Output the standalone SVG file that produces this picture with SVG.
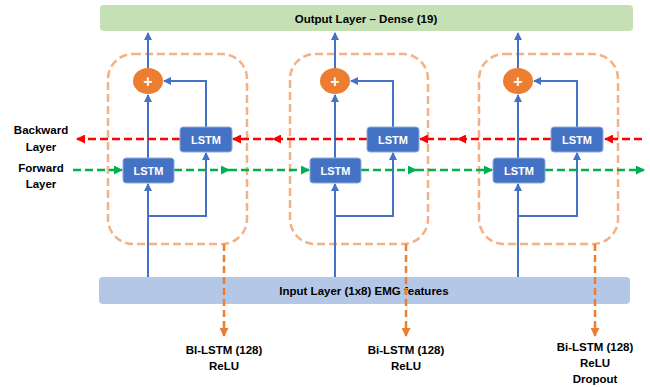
<svg xmlns="http://www.w3.org/2000/svg" width="650" height="387" viewBox="0 0 650 387">
<defs>
<style>
.t{font-family:"Liberation Sans",Arial,sans-serif;font-weight:bold;font-size:11.5px;fill:#000;text-anchor:middle}
.lt{font-family:"Liberation Sans",Arial,sans-serif;font-weight:bold;font-size:11px;fill:#fff;text-anchor:middle}
.plus{font-family:"Liberation Sans",Arial,sans-serif;font-weight:bold;font-size:16px;fill:#fff;text-anchor:middle}
.lstm{fill:#4472c4;stroke:#8faadc;stroke-width:1}
.cell{fill:none;stroke:#f4b183;stroke-width:2.5;stroke-dasharray:8 4}
.blue{fill:none;stroke:#4472c4;stroke-width:2}
.red{fill:none;stroke:#ff0000;stroke-width:2.5;stroke-dasharray:8 4}
.green{fill:none;stroke:#00b050;stroke-width:2.5;stroke-dasharray:8 4}
.or{fill:none;stroke:#ed7d31;stroke-width:2.5;stroke-dasharray:7 4}
</style>
<marker id="ab" markerWidth="8" markerHeight="8" refX="7" refY="4" orient="auto" markerUnits="userSpaceOnUse"><path d="M0,0 L8,4 L0,8 z" fill="#4472c4"/></marker>
<marker id="ar" markerWidth="9" markerHeight="9" refX="8" refY="4.5" orient="auto" markerUnits="userSpaceOnUse"><path d="M0,0 L9,4.5 L0,9 z" fill="#ff0000"/></marker>
<marker id="ag" markerWidth="9" markerHeight="9" refX="8" refY="4.5" orient="auto" markerUnits="userSpaceOnUse"><path d="M0,0 L9,4.5 L0,9 z" fill="#00b050"/></marker>
<marker id="ao" markerWidth="9" markerHeight="9" refX="8" refY="4.5" orient="auto" markerUnits="userSpaceOnUse"><path d="M0,0 L9,4.5 L0,9 z" fill="#ed7d31"/></marker>
</defs>
<rect width="650" height="387" fill="#fff"/>

<g id="output">
<rect x="100" y="5" width="533" height="26" rx="4" fill="#c5e0b4"/>
<text class="t" x="366" y="23">Output Layer – Dense (19)</text>
</g>
<g id="input">
<rect x="99" y="277" width="531" height="27" rx="4" fill="#b4c7e7"/>
<text class="t" x="364" y="295">Input Layer (1x8) EMG features</text>
</g>

<g id="cells">
<rect id="cell1" class="cell" x="108" y="54" width="139" height="190" rx="25"/>
<rect id="cell2" class="cell" x="290" y="54" width="138" height="190" rx="25"/>
<rect id="cell3" class="cell" x="479" y="54" width="139" height="190" rx="25"/>
</g>

<g id="connectors">
<path class="blue" d="M148,277 V216" stroke-width="3"/>
<path class="blue" d="M148,216 V184" marker-end="url(#ab)"/>
<path class="blue" d="M148,216 H206 V153" marker-end="url(#ab)"/>
<path class="blue" d="M148,158 V95" marker-end="url(#ab)"/>
<path class="blue" d="M206,127 V81 H164" marker-end="url(#ab)"/>
<path class="blue" d="M148,68 V33" marker-end="url(#ab)"/>
<path class="blue" d="M335,277 V216" stroke-width="3"/>
<path class="blue" d="M335,216 V184" marker-end="url(#ab)"/>
<path class="blue" d="M335,216 H393 V153" marker-end="url(#ab)"/>
<path class="blue" d="M335,158 V95" marker-end="url(#ab)"/>
<path class="blue" d="M393,127 V81 H351" marker-end="url(#ab)"/>
<path class="blue" d="M335,68 V33" marker-end="url(#ab)"/>
<path class="blue" d="M518,277 V216" stroke-width="3"/>
<path class="blue" d="M518,216 V184" marker-end="url(#ab)"/>
<path class="blue" d="M518,216 H577 V153" marker-end="url(#ab)"/>
<path class="blue" d="M518,158 V95" marker-end="url(#ab)"/>
<path class="blue" d="M577,127 V81 H534" marker-end="url(#ab)"/>
<path class="blue" d="M518,68 V33" marker-end="url(#ab)"/>
<path class="red" d="M642,139 H605" marker-end="url(#ar)"/>
<path class="red" d="M551,139 H458" marker-end="url(#ar)"/>
<path class="red" d="M458,139 H420" marker-end="url(#ar)"/>
<path class="red" d="M367,139 H273" marker-end="url(#ar)"/>
<path class="red" d="M273,139 H233" marker-end="url(#ar)"/>
<path class="red" d="M180,139 H77" marker-end="url(#ar)"/>
<path class="green" d="M73,170 H122" marker-end="url(#ag)"/>
<path class="green" d="M174,170 H229" marker-end="url(#ag)"/>
<path class="green" d="M229,170 H309" marker-end="url(#ag)"/>
<path class="green" d="M361,170 H416" marker-end="url(#ag)"/>
<path class="green" d="M416,170 H492" marker-end="url(#ag)"/>
<path class="green" d="M545,170 H644" marker-end="url(#ag)"/>
<path class="or" d="M224,244 V336" marker-end="url(#ao)"/>
<path class="or" d="M406,244 V336" marker-end="url(#ao)"/>
<path class="or" d="M595,244 V336" marker-end="url(#ao)"/>
</g>

<g id="sum1"><ellipse cx="148" cy="81" rx="15" ry="13" fill="#ed7d31"/><text class="plus" x="148" y="87">+</text></g>
<g id="sum2"><ellipse cx="335" cy="81" rx="15" ry="13" fill="#ed7d31"/><text class="plus" x="335" y="87">+</text></g>
<g id="sum3"><ellipse cx="518" cy="81" rx="15" ry="13" fill="#ed7d31"/><text class="plus" x="518" y="87">+</text></g>

<g id="fwd1"><rect class="lstm" x="123" y="158" width="51" height="25" rx="3"/><text class="lt" x="148.5" y="174.5">LSTM</text></g>
<g id="bwd1"><rect class="lstm" x="180" y="127" width="52" height="25" rx="3"/><text class="lt" x="206" y="143.5">LSTM</text></g>
<g id="fwd2"><rect class="lstm" x="310" y="158" width="51" height="25" rx="3"/><text class="lt" x="335.5" y="174.5">LSTM</text></g>
<g id="bwd2"><rect class="lstm" x="367" y="127" width="52" height="25" rx="3"/><text class="lt" x="393" y="143.5">LSTM</text></g>
<g id="fwd3"><rect class="lstm" x="493" y="158" width="52" height="25" rx="3"/><text class="lt" x="519" y="174.5">LSTM</text></g>
<g id="bwd3"><rect class="lstm" x="551" y="127" width="52" height="25" rx="3"/><text class="lt" x="577" y="143.5">LSTM</text></g>

<g id="labels">
<text class="t" x="41" y="134">Backward</text>
<text class="t" x="41" y="151">Layer</text>
<text class="t" x="41" y="172">Forward</text>
<text class="t" x="41" y="188">Layer</text>
<text class="t" x="224" y="354">BI-LSTM (128)</text>
<text class="t" x="224" y="370">ReLU</text>
<text class="t" x="406" y="354">Bi-LSTM (128)</text>
<text class="t" x="406" y="370">ReLU</text>
<text class="t" x="595" y="351">Bi-LSTM (128)</text>
<text class="t" x="595" y="367">ReLU</text>
<text class="t" x="595" y="383">Dropout</text>
</g>
</svg>
